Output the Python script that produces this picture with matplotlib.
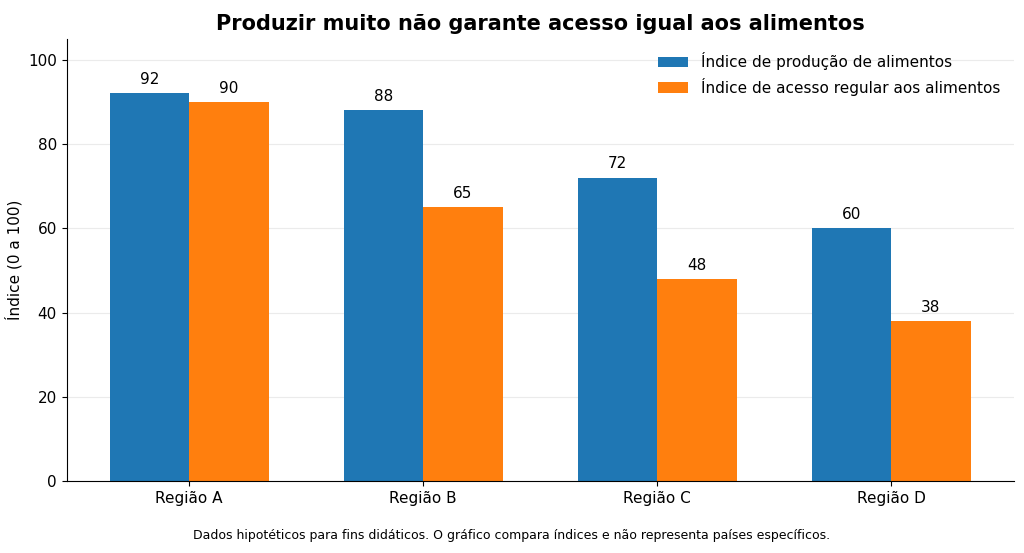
import matplotlib.pyplot as plt
import numpy as np

regioes = ["Região A", "Região B", "Região C", "Região D"]
producao = [92, 88, 72, 60]
acesso = [90, 65, 48, 38]

fig, ax = plt.subplots(figsize=(10.24, 5.53), dpi=100)
x = np.arange(len(regioes))
w = 0.34
b1 = ax.bar(x - w / 2, producao, w, color="#1f77b4", label="Índice de produção de alimentos")
b2 = ax.bar(x + w / 2, acesso, w, color="#ff7f0e", label="Índice de acesso regular aos alimentos")
for bars in (b1, b2):
    for b in bars:
        ax.text(b.get_x() + b.get_width() / 2, b.get_height() + 1.5, str(int(b.get_height())),
                ha="center", va="bottom", fontsize=11)

ax.set_xticks(x)
ax.set_xticklabels(regioes, fontsize=11)
ax.tick_params(axis="y", labelsize=11)
ax.set_ylim(0, 105)
ax.set_ylabel("Índice (0 a 100)", fontsize=11)
ax.set_title("Produzir muito não garante acesso igual aos alimentos", fontsize=15, fontweight="bold")
ax.yaxis.grid(True, alpha=0.25)
ax.set_axisbelow(True)
ax.spines["top"].set_visible(False)
ax.spines["right"].set_visible(False)
ax.legend(frameon=False, fontsize=11, loc="upper right")
fig.text(0.5, 0.025, "Dados hipotéticos para fins didáticos. O gráfico compara índices e não representa países específicos.",
         ha="center", fontsize=9)
fig.subplots_adjust(left=0.065, right=0.99, top=0.93, bottom=0.13)
fig.savefig("out.png")
